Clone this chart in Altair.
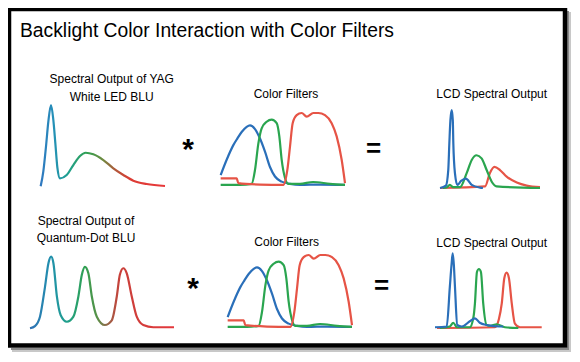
import altair as alt
import pandas as pd

# ---------------- text ----------------
TITLE = "Backlight Color Interaction with Color Filters"
SRC1_TITLE = ["Spectral Output of YAG", "White LED BLU"]
SRC2_TITLE = ["Spectral Output of", "Quantum-Dot BLU"]
FILTER_TITLE = "Color Filters"
OUT_TITLE = "LCD Spectral Output"
OP_MUL = "*"
OP_EQ = "="

# ---------------- data (wavelength nm, relative values) ----------------
YAG_WL = [402, 410, 418, 425, 433, 440, 446, 452, 460, 480, 500, 520, 537, 560, 590, 620, 650, 680, 720, 775]
YAG_I = [0.02, 0.20, 0.50, 0.80, 1.00, 0.82, 0.54, 0.25, 0.117, 0.157, 0.277, 0.386, 0.425, 0.406, 0.337, 0.237, 0.157, 0.088, 0.048, 0.024]

QD_WL = [400, 413, 426, 439, 448, 455, 461, 470, 480, 496, 513, 526, 535, 543, 552, 561, 574, 595, 613, 626, 634, 643, 652, 665, 678, 695, 721, 775]
QD_I = [0.01, 0.04, 0.17, 0.58, 0.91, 1.00, 0.91, 0.45, 0.19, 0.10, 0.17, 0.45, 0.75, 0.86, 0.77, 0.45, 0.17, 0.055, 0.12, 0.45, 0.75, 0.84, 0.77, 0.45, 0.17, 0.055, 0.024, 0.024]

# color filter transmission (%)
FB_WL = [402, 420, 440, 452, 465, 480, 490, 505, 520, 535, 550, 565, 585, 610, 640, 700, 775]
FB_T = [15, 36, 56, 65, 74, 81, 83, 78, 65, 47, 26, 13, 6, 3, 1.5, 2, 1.5]
FG_WL = [402, 460, 495, 505, 515, 525, 540, 555, 570, 578, 585, 595, 605, 640, 679, 730, 775]
FG_T = [1.5, 1.5, 3, 22, 58, 79, 88, 91, 86, 68, 36, 11, 3, 3, 5.5, 3, 1.5]
FR_WL = [402, 450, 455, 520, 590, 602, 610, 618, 630, 645, 660, 680, 695, 715, 735, 750, 765, 775]
FR_T = [10.5, 10.5, 4, 2, 1.5, 22, 54, 86, 97, 100, 95, 100, 100, 97, 86, 68, 36, 4]

# LCD output, YAG backlight
O1B_WL = [400, 422, 431, 435, 439, 444, 448, 450, 456, 465, 479, 497, 519, 550, 561]
O1B_I = [0.0, 0.03, 0.23, 0.57, 0.87, 1.0, 0.87, 0.57, 0.19, 0.04, 0.09, 0.12, 0.04, 0.005, 0.0]
O1G_WL = [411, 426, 437, 449, 475, 500, 519, 537, 556, 575, 594, 612, 775]
O1G_I = [0.0, 0.01, 0.04, 0.01, 0.01, 0.19, 0.36, 0.42, 0.38, 0.23, 0.08, 0.02, 0.0]
O1R_WL = [400, 569, 587, 604, 625, 650, 688, 725, 775]
O1R_I = [0.0, 0.02, 0.19, 0.27, 0.23, 0.145, 0.07, 0.03, 0.01]

# LCD output, quantum-dot backlight
O2B_WL = [400, 441, 452, 458, 462, 466, 470, 478, 494, 522, 540, 557, 581, 628, 639]
O2B_I = [0.01, 0.02, 0.55, 0.85, 1.0, 0.85, 0.55, 0.04, 0.02, 0.09, 0.13, 0.07, 0.04, 0.02, 0.02]
O2G_WL = [417, 452, 464, 477, 522, 535, 540, 547, 554, 561, 569, 581, 593, 616, 645, 692]
O2G_I = [0.0, 0.02, 0.07, 0.01, 0.01, 0.15, 0.33, 0.75, 0.79, 0.75, 0.33, 0.04, 0.03, 0.05, 0.01, 0.0]
O2R_WL = [407, 610, 624, 634, 643, 651, 659, 669, 680, 698, 774]
O2R_I = [0.0, 0.01, 0.12, 0.33, 0.67, 0.74, 0.67, 0.33, 0.06, 0.01, 0.01]

# ---------------- style / layout ----------------
BLUE = "#2a6fb9"
GREEN = "#2aa54f"
RED = "#e65446"
FONT = "Liberation Sans"
W, H = 564, 346
WL_MIN, WL_MAX = 400, 775
# page-pixel boxes: x0, x1, baseline y, y of full scale
BOX = {
    "src1": (40, 165, 188, 105),
    "flt1": (220, 345, 186, 113),
    "out1": (440, 540, 188, 110),
    "src2": (30, 174, 329, 256.7),
    "flt2": (227, 352, 328, 255),
    "out2": (435, 542, 328, 253.3),
}

xs = alt.Scale(domain=[8, 8 + W], nice=False, zero=False)
ys = alt.Scale(domain=[8 + H, 8], nice=False, zero=False)


def grad(stops):
    return alt.Gradient(
        gradient="linear",
        stops=[alt.GradientStop(offset=o, color=c) for o, c in stops],
        x1=0, x2=1, y1=0, y2=0,
    )


def curve(wl, val, vmax, box, stroke):
    x0, x1, yb, yt = box
    df = pd.DataFrame({"wl": wl, "val": val})
    return (
        alt.Chart(df)
        .transform_calculate(
            px=f"{x0} + (datum.wl - {WL_MIN}) / {WL_MAX - WL_MIN} * {x1 - x0}",
            py=f"{yb} - datum.val / {vmax} * {yb - yt}",
        )
        .mark_line(stroke=stroke, strokeWidth=2.2, interpolate="monotone")
        .encode(
            x=alt.X("px:Q", scale=xs, axis=None),
            y=alt.Y("py:Q", scale=ys, axis=None),
        )
    )


def label(text, x, y, size, weight="normal", align="center", font=FONT):
    return (
        alt.Chart(pd.DataFrame({"t": [text]}))
        .mark_text(fontSize=size, font=font, align=align, baseline="alphabetic",
                   fontWeight=weight, color="black")
        .encode(x=alt.value(x - 8), y=alt.value(y - 8), text="t:N")
    )


def box_rect(x, x2, y, y2, **kw):
    return (
        alt.Chart(pd.DataFrame({"a": [0]}))
        .mark_rect(**kw)
        .encode(x=alt.value(x), x2=alt.value(x2), y=alt.value(y), y2=alt.value(y2))
    )


YAG_GRAD = grad([(0, "#2f78c0"), (0.1, "#2590b8"), (0.22, "#1fa08e"), (0.38, "#33a050"),
                 (0.5, "#6f8a40"), (0.6, "#b0583a"), (0.72, "#dc3c34"), (1, "#e8383a")])
QD_GRAD = grad([(0, "#3070b4"), (0.14, "#2290ae"), (0.26, "#20a08a"), (0.38, "#30a052"),
                (0.47, "#5a9048"), (0.53, "#8f6a4a"), (0.62, "#c8403a"), (1, "#e4383c")])

TS = 12.0  # panel title size

layers = [
    # frame shadow + frame
    box_rect(559, 563, 4, 344, fill="#c8c8c8"),
    box_rect(4, 563, 340, 344, fill="#c8c8c8"),
    box_rect(559, 561, 3, 342, fill="#8a8a8a"),
    box_rect(3, 561, 340, 342, fill="#8a8a8a"),
    box_rect(1, 557, 1, 337.5, fillOpacity=0, stroke="black", strokeWidth=4.5),
    # title
    label(TITLE, 20, 36.5, 19.3, align="left"),
    # panel titles
    label(SRC1_TITLE[0], 111.7, 83, TS),
    label(SRC1_TITLE[1], 111.7, 100.7, TS),
    label(FILTER_TITLE, 286, 97.5, TS),
    label(OUT_TITLE, 491.7, 98, TS),
    label(SRC2_TITLE[0], 86, 224.5, TS),
    label(SRC2_TITLE[1], 86, 242.2, TS),
    label(FILTER_TITLE, 286.7, 246, TS),
    label(OUT_TITLE, 491.7, 246.5, TS),
    # operators
    label(OP_MUL, 188, 158.5, 30, weight="bold"),
    label(OP_MUL, 193, 297.5, 30, weight="bold"),
    label(OP_EQ, 373.7, 156.6, 26, weight="bold"),
    label(OP_EQ, 381.7, 294, 26, weight="bold"),
    # sources
    curve(YAG_WL, YAG_I, 1.0, BOX["src1"], YAG_GRAD),
    curve(QD_WL, QD_I, 1.0, BOX["src2"], QD_GRAD),
]
for key in ("flt1", "flt2"):
    layers += [
        curve(FB_WL, FB_T, 100, BOX[key], BLUE),
        curve(FG_WL, FG_T, 100, BOX[key], GREEN),
        curve(FR_WL, FR_T, 100, BOX[key], RED),
    ]
layers += [
    curve(O1R_WL, O1R_I, 1.0, BOX["out1"], RED),
    curve(O1G_WL, O1G_I, 1.0, BOX["out1"], GREEN),
    curve(O1B_WL, O1B_I, 1.0, BOX["out1"], BLUE),
    curve(O2R_WL, O2R_I, 1.0, BOX["out2"], RED),
    curve(O2G_WL, O2G_I, 1.0, BOX["out2"], GREEN),
    curve(O2B_WL, O2B_I, 1.0, BOX["out2"], BLUE),
]

chart = (
    alt.layer(*layers)
    .properties(width=W, height=H, autosize="none", padding=0, background="white")
    .configure_view(stroke=None)
)

chart.save("out.html", embed_options={"renderer": "svg", "actions": False})
